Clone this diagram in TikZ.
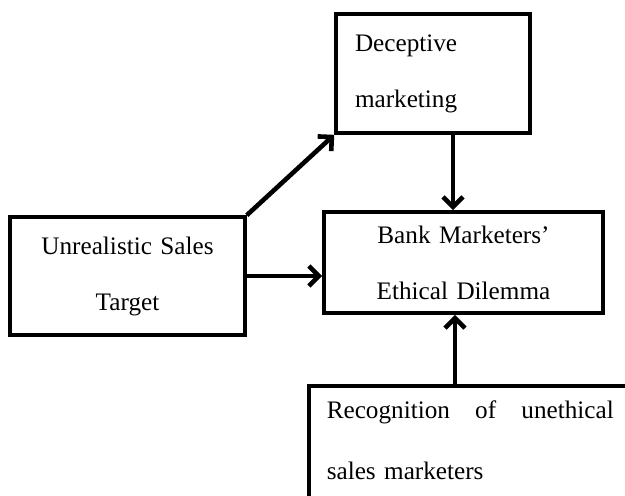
\documentclass[tikz,border=0pt]{standalone}
\usepackage{fontspec}
\setmainfont{Liberation Serif}
\usepackage{tikz}
\usetikzlibrary{arrows.meta, calc}
\tikzset{
	boxnode/.style={draw, line width=1.8pt, rectangle, inner sep=0pt, align=center, font=\fontsize{12.6pt}{28pt}\selectfont}
}
\tikzset{
	arrowline/.style={line width=2.3pt, -{Straight Barb[length=5pt,width=10pt]}}
}

\begin{document}
\begin{tikzpicture}[x=0.5pt, y=-0.5pt]
\useasboundingbox (0,0) rectangle (625,495);
\clip (0,0) rectangle (625,495);

\node[boxnode, minimum width=97pt, minimum height=59.5pt, text width=78pt, align=left] (decep) at (433,73.5) {Deceptive\\marketing};
\node[boxnode, minimum width=117.5pt, minimum height=59pt, text width=110pt] (unreal) at (127.5,276) {Unrealistic Sales\\Target};
\node[boxnode, minimum width=139.5pt, minimum height=50.5pt, text width=130pt] (dilem) at (463.5,262.5) {Bank Marketers'\\Ethical Dilemma};
\node[boxnode, anchor=north west, inner xsep=9pt, inner ysep=7.5pt, text width=143.5pt, align=left, font=\fontsize{12.6pt}{30.5pt}\selectfont] (recog) at (307,384) {\makebox[143.5pt][l]{Recognition\hfill of\hfill unethical}\\sales marketers\rule[-30pt]{0pt}{30pt}};

\draw[arrowline] (unreal.north east) -- (decep.south west);
\draw[arrowline] (unreal.east) -- (unreal.east -| dilem.west);
\draw[arrowline] ([xshift=10pt]decep.south) -- ([xshift=10pt]decep.south |- dilem.north);
\draw[arrowline] ([xshift=-4.25pt]dilem.south |- recog.north) -- ([xshift=-4.25pt]dilem.south);

\end{tikzpicture}
\end{document}
